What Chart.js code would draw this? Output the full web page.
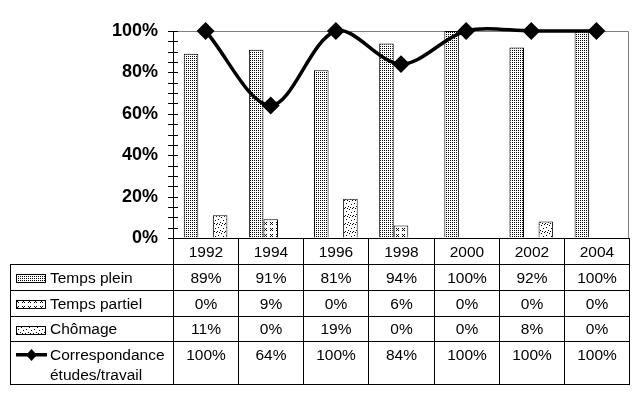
<!DOCTYPE html>
<html>
<head>
<meta charset="utf-8">
<script src="https://cdn.jsdelivr.net/npm/chart.js@4/dist/chart.umd.min.js"></script>
<style>
  body { margin: 0; background: #fff; }
  #wrap { position: relative; width: 639px; height: 399px; overflow: hidden; }
  #myChart { position: absolute; left: 0; top: 0; }
  .cell { position: absolute; box-sizing: border-box; border: 1px solid #000;
          font: 15.5px "Liberation Sans", Arial, sans-serif; color: #000;
          display: flex; align-items: center; justify-content: center; }
  .cell.top { align-items: flex-start; padding-top: 3px; line-height: 20px; }
  .cell.lab { justify-content: flex-start; padding-left: 39px; }
  .key { position: absolute; left: 5px; }
</style>
</head>
<body>
<div id="wrap">
  <canvas id="myChart" width="639" height="399"></canvas>
</div>
<script>
// data
const years = ['1992', '1994', '1996', '1998', '2000', '2002', '2004'];
const tempsPlein = [89, 91, 81, 94, 100, 92, 100];
const tempsPartiel = [0, 9, 0, 6, 0, 0, 0];
const chomage = [11, 0, 19, 0, 0, 8, 0];
const correspondance = [100, 64, 100, 84, 100, 100, 100];
const yLabels = [0, 20, 40, 60, 80, 100];

// little pixel tiles for the Excel style fills
const makeTile = (kind) => {
  const dots = {
    plein: { size: 2, px: [[0, 0]] },
    partiel: { size: 6, px: [[0, 0], [2, 0], [1, 1], [0, 2], [2, 2]] },
    chomage: { size: 8, px: [[0, 0], [5, 1], [2, 3], [7, 4], [4, 6], [1, 7], [3, 0], [6, 7]] }
  }[kind];
  const c = document.createElement('canvas');
  c.width = c.height = dots.size;
  const t = c.getContext('2d');
  t.fillStyle = '#fff';
  t.fillRect(0, 0, dots.size, dots.size);
  t.fillStyle = '#000';
  for (const [x, y] of dots.px) t.fillRect(x, y, 1, 1);
  return c;
};

const ctx = document.getElementById('myChart');
const c2d = ctx.getContext('2d');
const fill = (kind, context) => context.createPattern(makeTile(kind), 'repeat');

// gray frame on top/right, plus ticks crossing the value axis every 5%
const plotFrame = {
  id: 'plotFrame',
  beforeDatasetsDraw(chart) {
    const { ctx, chartArea: a } = chart;
    ctx.save();
    ctx.strokeStyle = '#808080';
    ctx.lineWidth = 1;
    ctx.beginPath();
    ctx.moveTo(a.left, a.top + 0.5);
    ctx.lineTo(a.right - 0.5, a.top + 0.5);
    ctx.lineTo(a.right - 0.5, a.bottom);
    ctx.stroke();
    const y = chart.scales.y;
    ctx.strokeStyle = '#000';
    ctx.beginPath();
    for (let v = 0; v <= 100; v += 5) {
      const py = Math.round(y.getPixelForValue(v)) + 0.5;
      ctx.moveTo(a.left - 5, py);
      ctx.lineTo(a.left + 5, py);
    }
    ctx.stroke();
    ctx.restore();
  }
};

const chart = new Chart(ctx, {
  data: {
    labels: years,
    datasets: [
      {
        type: 'line', label: 'Correspondance études/travail', data: correspondance,
        borderColor: '#000', borderWidth: 3.5, tension: 0.33, clip: false,
        pointStyle: 'rectRot', pointRadius: 6.5, pointBackgroundColor: '#000',
        pointBorderColor: '#000', order: 0
      },
      { type: 'bar', label: 'Temps plein', data: tempsPlein, backgroundColor: fill('plein', c2d),
        borderColor: '#000', borderWidth: 1, order: 1 },
      { type: 'bar', label: 'Temps partiel', data: tempsPartiel, backgroundColor: fill('partiel', c2d),
        borderColor: '#000', borderWidth: 1, order: 1 },
      { type: 'bar', label: 'Chômage', data: chomage, backgroundColor: fill('chomage', c2d),
        borderColor: '#000', borderWidth: 1, order: 1 }
    ]
  },
  options: {
    responsive: false,
    animation: false,
    layout: { padding: { left: 0, right: 10, top: 31, bottom: 161 } },
    elements: { line: { capBezierPoints: false } },
    datasets: { bar: { barPercentage: 1, categoryPercentage: 0.67 } },
    plugins: { legend: { display: false }, tooltip: { enabled: false } },
    scales: {
      x: { display: false, offset: true },
      y: {
        min: 0, max: 100,
        afterFit: (s) => { s.width = 173; },
        border: { color: '#000', width: 1 },
        grid: { drawOnChartArea: false, drawTicks: false },
        ticks: {
          stepSize: 20, padding: 15, color: '#000',
          font: { family: '"Liberation Sans", Arial, sans-serif', size: 18, weight: 'bold' },
          callback: (v) => yLabels.includes(v) ? v + '%' : ''
        }
      }
    }
  },
  plugins: [plotFrame]
});

// data table under the plot, columns taken from the x scale
const wrap = document.getElementById('wrap');
const area = chart.chartArea;
const colW = (area.right - area.left) / years.length;
const colEdges = years.map((_, i) => Math.round(area.left + i * colW));
colEdges.push(Math.round(area.right));
const rowEdges = [238, 264, 290, 316, 341, 384];
const tableLeft = 10;

const addCell = (x0, y0, x1, y1, html, cls) => {
  const d = document.createElement('div');
  d.className = 'cell' + (cls ? ' ' + cls : '');
  d.style.left = x0 + 'px';
  d.style.top = y0 + 'px';
  d.style.width = (x1 - x0 + 1) + 'px';
  d.style.height = (y1 - y0 + 1) + 'px';
  d.innerHTML = html;
  wrap.appendChild(d);
  return d;
};

years.forEach((yr, i) => addCell(colEdges[i], rowEdges[0], colEdges[i + 1], rowEdges[1], yr));

const rows = [
  { name: 'Temps plein', vals: tempsPlein, key: 'plein' },
  { name: 'Temps partiel', vals: tempsPartiel, key: 'partiel' },
  { name: 'Chômage', vals: chomage, key: 'chomage' },
  { name: 'Correspondance<br>études/travail', vals: correspondance, key: 'line' }
];

rows.forEach((r, ri) => {
  const y0 = rowEdges[ri + 1], y1 = rowEdges[ri + 2];
  const isLast = r.key === 'line';
  const lab = addCell(tableLeft, y0, colEdges[0], y1, '<span>' + r.name + '</span>', 'lab' + (isLast ? ' top' : ''));
  const k = document.createElement('canvas');
  k.className = 'key';
  if (isLast) {
    k.width = 32; k.height = 14;
    k.style.top = '6px';
    const kc = k.getContext('2d');
    kc.fillStyle = '#000';
    kc.fillRect(0, 5, 31, 3.5);
    kc.beginPath();
    kc.moveTo(15.5, 1); kc.lineTo(21, 7); kc.lineTo(15.5, 13); kc.lineTo(10, 7);
    kc.closePath(); kc.fill();
  } else {
    k.width = 30; k.height = 9;
    k.style.top = ((y1 - y0) / 2 - 4) + 'px';
    const kc = k.getContext('2d');
    kc.fillStyle = kc.createPattern(makeTile(r.key), 'repeat');
    kc.fillRect(0, 0, 30, 9);
    kc.strokeStyle = '#000';
    kc.strokeRect(0.5, 0.5, 29, 8);
  }
  lab.appendChild(k);
  r.vals.forEach((v, i) => addCell(colEdges[i], y0, colEdges[i + 1], y1, v + '%', isLast ? 'top' : ''));
});
</script>
</body>
</html>
